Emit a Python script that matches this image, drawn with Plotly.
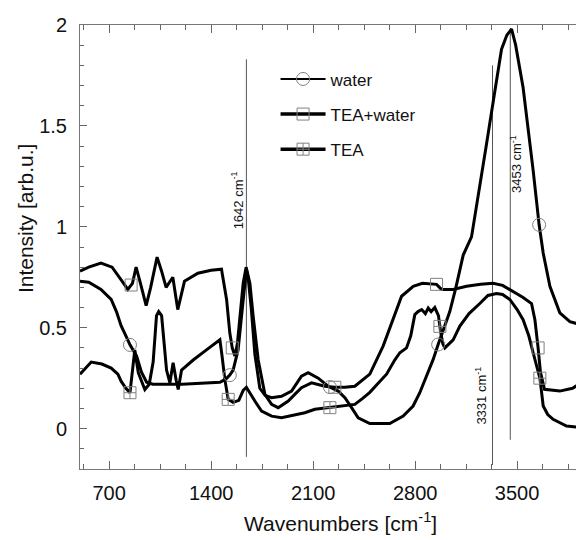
import numpy as np
import plotly.graph_objects as go

# ---------------- data ----------------
water_x = [500, 560, 644, 714, 750, 782, 815, 843, 888, 922, 957, 1000, 1200, 1400, 1460, 1500,
           1528, 1551, 1585, 1609, 1630, 1642, 1655, 1675, 1700, 1734, 1770, 1815, 1883, 1952,
           2020, 2066, 2135, 2203, 2272, 2318, 2364, 2409, 2489, 2626, 2718, 2786, 2832, 2878,
           2924, 2958, 3000, 3038, 3080, 3130, 3187, 3240, 3290, 3340, 3393, 3430, 3462, 3490,
           3541, 3610, 3651, 3679, 3725, 3793, 3862, 3959]
water_y = [0.73, 0.725, 0.69, 0.64, 0.58, 0.51, 0.46, 0.415, 0.36, 0.28, 0.23, 0.22, 0.22, 0.225, 0.23, 0.245,
           0.265, 0.29, 0.39, 0.56, 0.72, 0.79, 0.74, 0.60, 0.37, 0.20, 0.165, 0.153, 0.16, 0.186,
           0.26, 0.277, 0.25, 0.21, 0.186, 0.153, 0.104, 0.054, 0.025, 0.025, 0.062, 0.112, 0.178, 0.26,
           0.343, 0.417, 0.50, 0.58, 0.70, 0.86, 0.95, 1.18, 1.41, 1.64, 1.88, 1.95, 1.98, 1.90,
           1.69, 1.28, 1.01, 0.87, 0.705, 0.574, 0.53, 0.51]

tw_x = [500, 560, 644, 720, 780, 828, 860, 885, 915, 954, 985, 1029, 1060, 1091, 1137, 1171, 1217,
        1309, 1400, 1471, 1506, 1528, 1545, 1563, 1580, 1597, 1620, 1640, 1666, 1688, 1723, 1769,
        1815, 1860, 1929, 1974, 2020, 2089, 2180, 2249, 2318, 2386, 2489, 2581, 2649, 2707, 2787,
        2850, 2947, 2981, 3061, 3153, 3250, 3335, 3400, 3450, 3541, 3599, 3622, 3644, 3660, 3688,
        3793, 3880, 3959]
tw_y = [0.78, 0.80, 0.82, 0.80, 0.74, 0.69, 0.72, 0.80, 0.72, 0.61, 0.70, 0.85, 0.78, 0.70, 0.75, 0.59, 0.73,
        0.77, 0.785, 0.79, 0.64, 0.475, 0.40, 0.36, 0.42, 0.56, 0.72, 0.80, 0.72, 0.56, 0.34, 0.17,
        0.12, 0.104, 0.137, 0.17, 0.203, 0.227, 0.21, 0.205, 0.205, 0.21, 0.27, 0.41, 0.54, 0.656, 0.705,
        0.72, 0.715, 0.69, 0.69, 0.705, 0.715, 0.72, 0.71, 0.69, 0.65, 0.62, 0.54, 0.40, 0.28, 0.195,
        0.186, 0.20, 0.235]

tea_x = [500, 577, 650, 714, 760, 782, 815, 843, 862, 876, 900, 945, 975, 1002, 1025, 1040, 1060, 1080,
         1094, 1117, 1139, 1160, 1174, 1197, 1277, 1368, 1440, 1460, 1475, 1494, 1517, 1551, 1590,
         1620, 1642, 1670, 1700, 1746, 1815, 1883, 1974, 2043, 2112, 2215, 2318, 2386, 2440, 2489,
         2540, 2604, 2660, 2695, 2741, 2770, 2798, 2820, 2845, 2870, 2890, 2910, 2935, 2960, 2975,
         2990, 3004, 3061, 3107, 3170, 3244, 3300, 3359, 3400, 3450, 3500, 3541, 3580, 3610, 3656,
         3668, 3679, 3710, 3747, 3839, 3959]
tea_y = [0.27, 0.33, 0.32, 0.30, 0.27, 0.235, 0.20, 0.178, 0.30, 0.39, 0.277, 0.194, 0.22, 0.33, 0.56, 0.58,
         0.56, 0.40, 0.29, 0.227, 0.327, 0.24, 0.194, 0.29, 0.34, 0.39, 0.43, 0.44, 0.36, 0.244, 0.145,
         0.13, 0.14, 0.19, 0.205, 0.17, 0.137, 0.087, 0.062, 0.054, 0.07, 0.079, 0.096, 0.104, 0.112,
         0.12, 0.15, 0.18, 0.22, 0.27, 0.34, 0.376, 0.40, 0.46, 0.565, 0.58, 0.59, 0.57, 0.598, 0.58,
         0.60, 0.56, 0.48, 0.42, 0.40, 0.44, 0.508, 0.57, 0.62, 0.66, 0.67, 0.665, 0.64, 0.59, 0.54,
         0.46, 0.376, 0.25, 0.18, 0.112, 0.07, 0.046, 0.013, 0.005]

# positions (wavenumber) of the sparse symbols along each curve
water_mk_x = [843, 1528, 2215, 2958, 3651]
tw_mk_x = [851, 1545, 2249, 2947, 3644]
tea_mk_x = [843, 1517, 2215, 2970, 3656]

series_names = ["water", "TEA+water", "TEA"]

# marked band positions
peak_pos = [1642, 3331, 3453]
peak_y0 = [-0.14, -0.18, -0.055]
peak_y1 = [1.83, 1.80, 1.97]
peak_label_x = [1576, 3254, 3491]
peak_label_y = [1.13, 0.165, 1.31]

x_ticks = [700, 1400, 2100, 2800, 3500]
y_ticks = [0, 0.5, 1, 1.5, 2]
y_ticktext = ["0", "0.5", "1", "1.5", "2"]

# ---------------- figure ----------------
FONT = "Liberation Sans, Arial, sans-serif"
MK_COLOR = "#808080"

fig = go.Figure()

series = [
    (series_names[0], water_x, water_y, water_mk_x, "circle-open", 3.0, 2.0, 13),
    (series_names[1], tw_x, tw_y, tw_mk_x, "square-open", 3.0, 3.5, 12),
    (series_names[2], tea_x, tea_y, tea_mk_x, "square-cross-open", 3.0, 3.5, 12),
]

for name, xs, ys, mkx, sym, lw, leg_lw, msz in series:
    fig.add_trace(go.Scatter(x=xs, y=ys, mode="lines", line=dict(color="black", width=lw),
                             showlegend=False, hoverinfo="skip"))

for name, xs, ys, mkx, sym, lw, leg_lw, msz in series:
    mky = np.interp(mkx, xs, ys)
    fig.add_trace(go.Scatter(x=mkx, y=mky, mode="markers",
                             marker=dict(symbol=sym, size=msz, color=MK_COLOR,
                                         line=dict(color=MK_COLOR, width=1)),
                             showlegend=False, hoverinfo="skip"))

for i, (name, xs, ys, mkx, sym, lw, leg_lw, msz) in enumerate(series):
    fig.add_trace(go.Scatter(x=[None], y=[None], mode="lines+markers", name=name,
                             legendgroup=f"g{i}",
                             line=dict(color="black", width=leg_lw),
                             marker=dict(symbol=sym, size=msz, color=MK_COLOR,
                                         line=dict(color=MK_COLOR, width=1))))

# dummy trace for the right-hand tick axis
fig.add_trace(go.Scatter(x=[None], y=[None], yaxis="y2", showlegend=False, hoverinfo="skip"))

for px, y0, y1 in zip(peak_pos, peak_y0, peak_y1):
    fig.add_shape(type="line", xref="x", yref="y", x0=px, x1=px, y0=y0, y1=y1,
                  line=dict(color="#555555", width=1), layer="below")

for px, lx, ly in zip(peak_pos, peak_label_x, peak_label_y):
    fig.add_annotation(x=lx, y=ly, xref="x", yref="y", text=f"{px} cm<sup>-1</sup>",
                       textangle=-90, showarrow=False, xanchor="center", yanchor="middle",
                       font=dict(family=FONT, size=13, color="#111"))

# axis titles as annotations (placed like the reference)
fig.add_annotation(x=-0.109, y=0.563, xref="paper", yref="paper", text="Intensity [arb.u.]",
                   textangle=-90, showarrow=False, xanchor="center", yanchor="middle",
                   font=dict(family=FONT, size=21, color="#111"))
fig.add_annotation(x=0.516, y=-0.119, xref="paper", yref="paper", text="Wavenumbers [cm<sup>-1</sup>]",
                   showarrow=False, xanchor="center", yanchor="middle",
                   font=dict(family=FONT, size=21, color="#111"))

# the page body has an 8px default margin, so the figure is sized/offset to compensate
fig.update_layout(
    width=576, height=532,
    margin=dict(l=72, r=0, t=17, b=71),
    paper_bgcolor="white", plot_bgcolor="white",
    font=dict(family=FONT, color="#111"),
    xaxis=dict(range=[500, 3959], tickvals=x_ticks, ticks="inside", ticklen=8, tickwidth=1,
               tickcolor="#666", showline=True, linecolor="#777", linewidth=1, mirror="ticks",
               showgrid=False, zeroline=False, tickfont=dict(family=FONT, size=20, color="#111"),
               ticklabelstandoff=6,
               minor=dict(dtick=175, tick0=0, ticks="inside", ticklen=5, tickcolor="#666", showgrid=False)),
    yaxis=dict(range=[-0.2, 2], tickvals=y_ticks, ticktext=y_ticktext, ticks="inside", ticklen=7,
               tickwidth=1, tickcolor="#666", showline=True, linecolor="#777", linewidth=1,
               mirror=False, showgrid=False, zeroline=False,
               tickfont=dict(family=FONT, size=20, color="#111"), ticklabelstandoff=8,
               minor=dict(dtick=0.1, tick0=0, ticks="inside", ticklen=4, tickcolor="#666", showgrid=False)),
    yaxis2=dict(range=[-0.2, 2], overlaying="y", side="right", tickvals=y_ticks, ticks="inside",
                ticklen=4, tickcolor="#666", showticklabels=False, showline=False, showgrid=False,
                zeroline=False),
    legend=dict(x=0.388, y=0.918, xanchor="left", yanchor="top", bgcolor="rgba(0,0,0,0)",
                font=dict(family=FONT, size=17, color="#111"), tracegroupgap=10, itemwidth=45),
    showlegend=True,
)

fig.write_html("out.html")
